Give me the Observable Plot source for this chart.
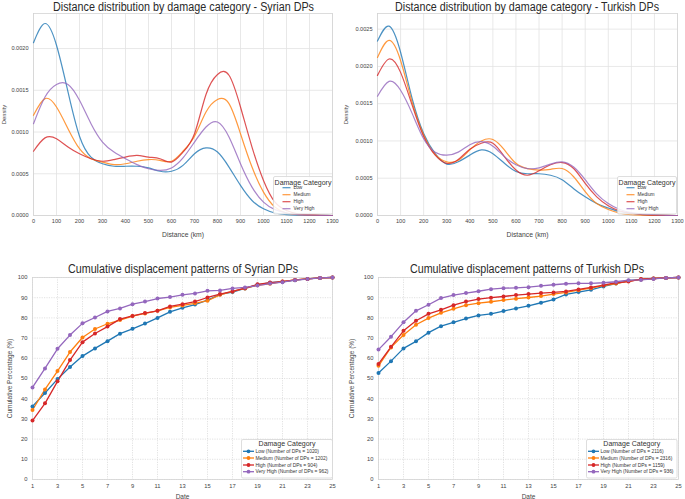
<!DOCTYPE html>
<html>
<head>
<meta charset="utf-8">
<script src="https://cdn.jsdelivr.net/npm/d3@7"></script>
<script src="https://cdn.jsdelivr.net/npm/@observablehq/plot@0.6"></script>
<style>
  body { margin: 0; background: #fff; }
  #root { position: relative; width: 685px; height: 499px; overflow: hidden; font-family: "Liberation Sans", Arial, sans-serif; color: #333; }
  .title { position: absolute; font-size: 12.5px; white-space: nowrap; color: #2a2a2a; transform-origin: 0 50%; line-height: 1; }
</style>
</head>
<body>
<div id="root"></div>
<script>
// ---------- data ----------
const categories = ["Low", "Medium", "High", "Very High"];
const distances = [0,50,100,150,200,250,300,350,400,450,500,550,600,650,700,750,800,850,900,950,1000,1050,1100,1150,1200,1250,1300];
const distanceTicks = [0,100,200,300,400,500,600,700,800,900,1000,1100,1200,1300];

const syrianLow      = [0.00207,0.00230,0.00204,0.00148,0.00095,0.00070,0.00062,0.00059,0.00059,0.00059,0.00057,0.00053,0.00053,0.00060,0.00074,0.00081,0.00076,0.00058,0.00036,0.00018,0.00008,0.00003,0.00001,0.000005,0.000002,0.000001,0];
const syrianMedium   = [0.00120,0.00140,0.00130,0.00104,0.00080,0.00068,0.00064,0.00061,0.00062,0.00065,0.00067,0.00066,0.00065,0.00077,0.00095,0.00124,0.00139,0.00134,0.00098,0.00058,0.00028,0.00010,0.00003,0.00001,0.000003,0.000001,0];
const syrianHigh     = [0.00077,0.00093,0.00092,0.00082,0.00074,0.00068,0.00065,0.00067,0.00070,0.00072,0.00070,0.00068,0.00064,0.00076,0.00098,0.00145,0.00169,0.00168,0.00130,0.00082,0.00042,0.00016,0.00006,0.00002,0.00001,0.000003,0];
const syrianVeryHigh = [0.00110,0.00142,0.00157,0.00157,0.00138,0.00110,0.00088,0.00076,0.00068,0.00061,0.00056,0.00054,0.00057,0.00069,0.00088,0.00106,0.00112,0.00094,0.00062,0.00034,0.00016,0.00007,0.00003,0.00001,0.000004,0.000001,0];

const turkishLow      = [0.00234,0.00254,0.00219,0.00157,0.00110,0.00083,0.00069,0.00072,0.00081,0.00088,0.00083,0.00070,0.00059,0.00056,0.00056,0.00054,0.00048,0.00036,0.00025,0.00016,0.00010,0.00005,0.00003,0.00001,0.000005,0.000002,0];
const turkishMedium   = [0.00212,0.00235,0.00208,0.00152,0.00108,0.00082,0.00072,0.00074,0.00088,0.00100,0.00102,0.00088,0.00070,0.00063,0.00061,0.00062,0.00063,0.00052,0.00032,0.00016,0.00008,0.00003,0.00001,0.000005,0.000002,0.000001,0];
const turkishHigh     = [0.00188,0.00210,0.00192,0.00148,0.00106,0.00081,0.00070,0.00075,0.00089,0.00097,0.00097,0.00079,0.00061,0.00054,0.00060,0.00068,0.00071,0.00063,0.00043,0.00025,0.00013,0.00006,0.00003,0.00001,0.000005,0.000002,0];
const turkishVeryHigh = [0.00160,0.00180,0.00168,0.00137,0.00103,0.00085,0.00081,0.00085,0.00095,0.00099,0.00093,0.00079,0.00068,0.00063,0.00064,0.00069,0.00072,0.00065,0.00048,0.00029,0.00016,0.00008,0.00004,0.00002,0.00001,0.000003,0];

const syrianDensityTicks = [0,0.0005,0.0010,0.0015,0.0020];
const turkishDensityTicks = [0,0.0005,0.0010,0.0015,0.0020,0.0025];

const days = [1,2,3,4,5,6,7,8,9,10,11,12,13,14,15,16,17,18,19,20,21,22,23,24,25];
const dayTicks = [1,3,5,7,9,11,13,15,17,19,21,23,25];
const percentTicks = [0,10,20,30,40,50,60,70,80,90,100];

const syrianCumLow      = [36.2,42.8,49.7,55.7,61.1,64.9,68.5,72.2,74.6,77.2,80.0,83.0,85.0,86.6,88.8,91.6,92.8,94.6,96.4,97.4,97.9,98.7,99.3,99.8,100];
const syrianCumMedium   = [34.4,44.6,53.7,63.1,70.3,74.5,77.1,78.9,80.9,82.2,83.5,85.2,86.2,87.2,88.5,91.4,93.1,94.6,96.2,96.9,98.0,98.8,99.3,99.8,100];
const syrianCumHigh     = [29.2,37.7,48.6,59.1,68.0,72.3,75.7,79.4,81.0,82.4,83.5,85.7,86.8,88.1,90.1,91.8,93.1,94.7,96.6,97.5,98.0,98.8,99.3,99.8,100];
const syrianCumVeryHigh = [45.6,55.0,64.7,71.5,77.3,80.2,83.2,84.7,86.8,88.1,89.6,90.3,91.4,92.1,93.4,93.6,94.6,95.1,96.0,97.0,97.7,98.7,99.2,99.8,100];

const turkishCumLow      = [52.7,58.6,64.9,68.4,72.7,75.9,77.8,79.7,81.2,82.0,83.4,84.7,86.0,87.5,89.1,91.6,92.8,93.9,95.6,97.0,98.4,99.0,99.5,99.8,100];
const turkishCumMedium   = [56.3,65.4,71.5,76.6,79.9,82.5,84.5,86.3,87.3,88.0,88.8,89.5,90.1,90.8,91.8,92.6,93.7,94.7,96.0,97.0,98.2,99.0,99.5,99.8,100];
const turkishCumHigh     = [57.2,65.7,73.6,78.6,82.0,84.0,86.3,88.1,89.3,90.0,90.6,91.3,91.8,92.3,92.6,93.1,94.1,95.1,96.2,97.4,98.0,99.2,99.5,99.8,100];
const turkishCumVeryHigh = [64.3,70.7,77.8,83.5,86.5,89.8,91.3,92.3,93.2,94.2,94.7,94.9,95.2,95.9,96.4,96.9,97.1,97.1,97.4,97.9,98.7,98.8,99.3,99.8,100];

const syrianCounts = [1020, 1202, 904, 962];
const turkishCounts = [2116, 2316, 1159, 936];

const colors = ["#1f77b4", "#ff7f0e", "#d62728", "#9467bd"];

// ---------- helpers ----------
const FONT = `"Liberation Sans", Arial, sans-serif`;
const SVGNS = "http://www.w3.org/2000/svg";
const root = document.getElementById("root");

function longTable(xs, seriesList, xKey, yKey) {
  return seriesList.flatMap((vals, i) => vals.map((v, j) => ({[xKey]: xs[j], [yKey]: v, cat: categories[i]})));
}

function place(el, left, top) {
  el.style.position = "absolute";
  el.style.left = left + "px";
  el.style.top = top + "px";
  root.appendChild(el);
}

function addTitle(text, x0, x1, cy) {
  const d = document.createElement("div");
  d.className = "title";
  d.textContent = text;
  root.appendChild(d);
  const w = d.getBoundingClientRect().width;
  const h = d.getBoundingClientRect().height;
  const s = (x1 - x0) / w;
  d.style.left = x0 + "px";
  d.style.top = (cy - h / 2) + "px";
  d.style.transform = `scaleX(${s})`;
}

function el(tag, attrs, parent) {
  const e = document.createElementNS(SVGNS, tag);
  for (const k in attrs) e.setAttribute(k, attrs[k]);
  if (parent) parent.appendChild(e);
  return e;
}

function addLegend({left, top, width, height, entries, dots, titleY, titleSize, rowYs, lineX0, lineX1, textX, fontSize}) {
  const svg = el("svg", {width: width + 2, height: height + 2});
  svg.style.overflow = "visible";
  el("rect", {x: 0.5, y: 0.5, width, height, rx: 1.5, fill: "#fff", "fill-opacity": 0.85, stroke: "#d6d6d6", "stroke-width": 0.8}, svg);
  const t = el("text", {x: width / 2 + 0.5, y: titleY, "text-anchor": "middle", "dominant-baseline": "central", "font-family": FONT, "font-size": titleSize, fill: "#333"}, svg);
  t.textContent = "Damage Category";
  entries.forEach((e, i) => {
    const y = rowYs[i];
    el("line", {x1: lineX0, x2: lineX1, y1: y, y2: y, stroke: colors[i], "stroke-width": dots ? 1.3 : 1.2, "stroke-opacity": dots ? 1 : 0.8}, svg);
    if (dots) el("circle", {cx: (lineX0 + lineX1) / 2, cy: y, r: 1.9, fill: colors[i]}, svg);
    const tx = el("text", {x: textX, y, "dominant-baseline": "central", "font-family": FONT, "font-size": fontSize, fill: "#333"}, svg);
    tx.textContent = e;
  });
  place(svg, left, top);
}

function densityPanel({series, yTicks, yMax, width, marginLeft, marginRight}) {
  const data = longTable(distances, series, "distance", "density");
  return Plot.plot({
    width, height: 240,
    marginTop: 13, marginBottom: 25, marginLeft, marginRight,
    style: {fontFamily: FONT, fontSize: "5.6px", color: "#444", background: "transparent", overflow: "visible"},
    x: {domain: [0, 1300]},
    y: {domain: [0, yMax]},
    color: {domain: categories, range: colors},
    marks: [
      Plot.gridX(distanceTicks, {stroke: "#e2e2e2", strokeOpacity: 1, strokeWidth: 0.8}),
      Plot.gridY(yTicks, {stroke: "#e2e2e2", strokeOpacity: 1, strokeWidth: 0.8}),
      Plot.frame({stroke: "#d4d4d4", strokeWidth: 0.8}),
      Plot.axisX(distanceTicks, {tickSize: 0, tickPadding: 3.5, label: null, tickFormat: d => String(d)}),
      Plot.axisY(yTicks, {tickSize: 0, tickPadding: 5, label: null, tickFormat: d3.format(".4f")}),
      Plot.axisX([], {label: "Distance (km)", labelAnchor: "center", labelArrow: "none", labelOffset: 21, fontSize: 6.8}),
      Plot.axisY([], {label: "Density", labelAnchor: "center", labelArrow: "none", labelOffset: marginLeft - 1, fontSize: 5.8}),
      Plot.line(data, {x: "distance", y: "density", stroke: "cat", curve: "natural", strokeWidth: 1.2, strokeOpacity: 0.8})
    ]
  });
}

function cumulativePanel({series, width, marginLeft, marginRight}) {
  const data = longTable(days, series, "day", "pct");
  return Plot.plot({
    width, height: 249,
    marginTop: 27, marginBottom: 20, marginLeft, marginRight,
    style: {fontFamily: FONT, fontSize: "5.8px", color: "#444", background: "transparent", overflow: "visible"},
    x: {domain: [1, 25]},
    y: {domain: [0, 100]},
    color: {domain: categories, range: colors},
    marks: [
      Plot.gridX(dayTicks, {stroke: "#cfcfcf", strokeOpacity: 1, strokeWidth: 0.6, strokeDasharray: "1.2,1.2"}),
      Plot.gridY(percentTicks, {stroke: "#cfcfcf", strokeOpacity: 1, strokeWidth: 0.6, strokeDasharray: "1.2,1.2"}),
      Plot.frame({stroke: "#d4d4d4", strokeWidth: 0.8}),
      Plot.axisX(dayTicks, {tickSize: 0, tickPadding: 4, label: null, tickFormat: d => String(d)}),
      Plot.axisY(percentTicks, {tickSize: 0, tickPadding: 5, label: null, tickFormat: d => String(d)}),
      Plot.axisX([], {label: "Date", labelAnchor: "center", labelArrow: "none", labelOffset: 19, fontSize: 6.5}),
      Plot.axisY([], {label: "Cumulative Percentage (%)", labelAnchor: "center", labelArrow: "none", labelOffset: marginLeft - 7, fontSize: 6.5}),
      Plot.line(data, {x: "day", y: "pct", stroke: "cat", strokeWidth: 1.3}),
      Plot.dot(data, {x: "day", y: "pct", fill: "cat", r: 2})
    ]
  });
}

// ---------- panels ----------
place(densityPanel({series: [syrianLow, syrianMedium, syrianHigh, syrianVeryHigh], yTicks: syrianDensityTicks, yMax: 0.00242, width: 342, marginLeft: 33, marginRight: 10}), 0, 0);
place(densityPanel({series: [turkishLow, turkishMedium, turkishHigh, turkishVeryHigh], yTicks: turkishDensityTicks, yMax: 0.00271, width: 343, marginLeft: 35, marginRight: 8}), 342, 0);
place(cumulativePanel({series: [syrianCumLow, syrianCumMedium, syrianCumHigh, syrianCumVeryHigh], width: 342, marginLeft: 32, marginRight: 10}), 0, 250);
place(cumulativePanel({series: [turkishCumLow, turkishCumMedium, turkishCumHigh, turkishCumVeryHigh], width: 343, marginLeft: 36, marginRight: 7}), 342, 250);

addTitle("Distance distribution by damage category - Syrian DPs", 53, 314, 7.5);
addTitle("Distance distribution by damage category - Turkish DPs", 395, 659, 7.5);
addTitle("Cumulative displacement patterns of Syrian DPs", 68, 298, 269.5);
addTitle("Cumulative displacement patterns of Turkish DPs", 410, 644, 269.5);

const topRows = [11.7, 18.7, 25.7, 32.7];
addLegend({left: 272.5, top: 175.5, width: 59, height: 37.5, entries: categories, dots: false, titleY: 6, titleSize: 7, rowYs: topRows, lineX0: 9.5, lineX1: 17.5, textX: 20.5, fontSize: 4.8});
addLegend({left: 616.5, top: 175.5, width: 59, height: 37.5, entries: categories, dots: false, titleY: 6, titleSize: 7, rowYs: topRows, lineX0: 9.5, lineX1: 17.5, textX: 20.5, fontSize: 4.8});
const botRows = [12.3, 19, 26, 32.7];
addLegend({left: 240.5, top: 438.5, width: 91, height: 38.5, entries: categories.map((c, i) => `${c} (Number of DPs = ${syrianCounts[i]})`), dots: true, titleY: 4.8, titleSize: 7, rowYs: botRows, lineX0: 2, lineX1: 13, textX: 14.5, fontSize: 4.9});
addLegend({left: 585.5, top: 438.5, width: 90.5, height: 38.5, entries: categories.map((c, i) => `${c} (Number of DPs = ${turkishCounts[i]})`), dots: true, titleY: 4.8, titleSize: 7, rowYs: botRows, lineX0: 2, lineX1: 13, textX: 14.5, fontSize: 4.9});
</script>
</body>
</html>
